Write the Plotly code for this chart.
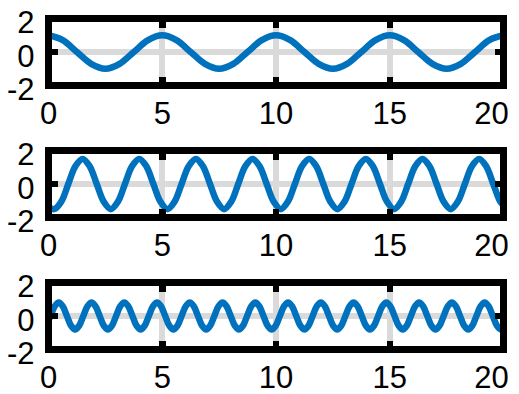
import plotly.graph_objects as go

# ---- data (sample points along each curve) ----
TOP_X = [0, 0.625, 1.25, 1.875, 2.5, 3.125, 3.75, 4.375,
         5, 5.625, 6.25, 6.875, 7.5, 8.125, 8.75, 9.375,
         10, 10.625, 11.25, 11.875, 12.5, 13.125, 13.75, 14.375,
         15, 15.625, 16.25, 16.875, 17.5, 18.125, 18.75, 19.375,
         20]
TOP_Y = [1, 0.71, 0, -0.71, -1, -0.71, 0, 0.71,
         1, 0.71, 0, -0.71, -1, -0.71, 0, 0.71,
         1, 0.71, 0, -0.71, -1, -0.71, 0, 0.71,
         1, 0.71, 0, -0.71, -1, -0.71, 0, 0.71,
         1]

MID_X = [0,
         0.25, 0.56, 0.87, 1.18, 1.50, 1.81, 2.12, 2.43,
         2.74, 3.05, 3.36, 3.67, 3.99, 4.30, 4.61, 4.92,
         5.23, 5.54, 5.85, 6.16, 6.48, 6.79, 7.10, 7.41,
         7.72, 8.03, 8.34, 8.65, 8.97, 9.28, 9.59, 9.90,
         10.21, 10.52, 10.83, 11.14, 11.46, 11.77, 12.08, 12.39,
         12.70, 13.01, 13.32, 13.63, 13.95, 14.26, 14.57, 14.88,
         15.19, 15.50, 15.81, 16.12, 16.44, 16.75, 17.06, 17.37,
         17.68, 17.99, 18.30, 18.61, 18.93, 19.24, 19.55, 19.86,
         20]
MID_Y = [-1.35,
         -1.5, -1.06, 0, 1.06, 1.5, 1.06, 0, -1.06,
         -1.5, -1.06, 0, 1.06, 1.5, 1.06, 0, -1.06,
         -1.5, -1.06, 0, 1.06, 1.5, 1.06, 0, -1.06,
         -1.5, -1.06, 0, 1.06, 1.5, 1.06, 0, -1.06,
         -1.5, -1.06, 0, 1.06, 1.5, 1.06, 0, -1.06,
         -1.5, -1.06, 0, 1.06, 1.5, 1.06, 0, -1.06,
         -1.5, -1.06, 0, 1.06, 1.5, 1.06, 0, -1.06,
         -1.5, -1.06, 0, 1.06, 1.5, 1.06, 0, -1.06,
         -1.25]

BOT_X = [0,
         0.09, 0.27, 0.45, 0.63, 0.81, 0.99, 1.17, 1.35,
         1.53, 1.71, 1.89, 2.07, 2.25, 2.43, 2.61, 2.79,
         2.97, 3.15, 3.33, 3.51, 3.69, 3.87, 4.05, 4.23,
         4.41, 4.59, 4.77, 4.95, 5.13, 5.31, 5.49, 5.67,
         5.85, 6.03, 6.21, 6.39, 6.57, 6.75, 6.93, 7.11,
         7.29, 7.47, 7.65, 7.83, 8.01, 8.19, 8.37, 8.55,
         8.73, 8.91, 9.09, 9.27, 9.45, 9.63, 9.81, 9.99,
         10.17, 10.35, 10.53, 10.71, 10.89, 11.07, 11.25, 11.43,
         11.61, 11.79, 11.97, 12.15, 12.33, 12.51, 12.69, 12.87,
         13.05, 13.23, 13.41, 13.59, 13.77, 13.95, 14.13, 14.31,
         14.49, 14.67, 14.85, 15.03, 15.21, 15.39, 15.57, 15.75,
         15.93, 16.11, 16.29, 16.47, 16.65, 16.83, 17.01, 17.19,
         17.37, 17.55, 17.73, 17.91, 18.09, 18.27, 18.45, 18.63,
         18.81, 18.99, 19.17, 19.35, 19.53, 19.71, 19.89,
         20]
BOT_Y = [-0.25,
         0, 0.57, 0.8, 0.57, 0, -0.57, -0.8, -0.57,
         0, 0.57, 0.8, 0.57, 0, -0.57, -0.8, -0.57,
         0, 0.57, 0.8, 0.57, 0, -0.57, -0.8, -0.57,
         0, 0.57, 0.8, 0.57, 0, -0.57, -0.8, -0.57,
         0, 0.57, 0.8, 0.57, 0, -0.57, -0.8, -0.57,
         0, 0.57, 0.8, 0.57, 0, -0.57, -0.8, -0.57,
         0, 0.57, 0.8, 0.57, 0, -0.57, -0.8, -0.57,
         0, 0.57, 0.8, 0.57, 0, -0.57, -0.8, -0.57,
         0, 0.57, 0.8, 0.57, 0, -0.57, -0.8, -0.57,
         0, 0.57, 0.8, 0.57, 0, -0.57, -0.8, -0.57,
         0, 0.57, 0.8, 0.57, 0, -0.57, -0.8, -0.57,
         0, 0.57, 0.8, 0.57, 0, -0.57, -0.8, -0.57,
         0, 0.57, 0.8, 0.57, 0, -0.57, -0.8, -0.57,
         0, 0.57, 0.8, 0.57, 0, -0.57, -0.8,
         -0.71]

X_TICKS = [0, 5, 10, 15, 20]
X_TICK_TEXT = ["0", "5", "10", "15", "20"]
Y_TICKS = [-2, 0, 2]
Y_TICK_TEXT = ["-2", "0", "2"]
X_RANGE = [0, 20]
Y_RANGE = [-2, 2]

assert len(TOP_X) == len(TOP_Y)
assert len(MID_X) == len(MID_Y)
assert len(BOT_X) == len(BOT_Y)

W, H = 519, 394
LINE_COLOR = "#0072BD"
GRID_COLOR = "#dadada"
FONT = dict(family="Liberation Sans, Arial, sans-serif", size=31, color="black")

# pixel boxes (line centres of the frames)
x_left, x_right = 48.5, 503.5
panels = [(18.5, 85.5), (150.5, 217.5), (282.5, 349.5)]
series = [(TOP_X, TOP_Y), (MID_X, MID_Y), (BOT_X, BOT_Y)]

fig = go.Figure()
shapes = []
layout_axes = {}
n = len(panels)
for i, ((top, bot), (xs, ys)) in enumerate(zip(panels, series), start=1):
    xa = "x" if i == 1 else f"x{i}"
    ya = "y" if i == 1 else f"y{i}"
    ov = n + i
    fig.add_trace(go.Scatter(
        x=xs, y=ys, mode="lines", xaxis=xa, yaxis=ya,
        line=dict(color=LINE_COLOR, width=6.5, shape="spline", smoothing=1),
        showlegend=False, hoverinfo="skip"))
    # empty trace so the overlay axis (last x label) gets drawn
    fig.add_trace(go.Scatter(x=[], y=[], mode="lines", xaxis=f"x{ov}", yaxis=ya,
                             showlegend=False, hoverinfo="skip"))
    common = dict(
        showline=False, zeroline=False, showgrid=True,
        gridcolor=GRID_COLOR, gridwidth=6,
        ticks="inside", ticklen=9, tickwidth=6.5, tickcolor="black",
        mirror="ticks", tickfont=FONT, fixedrange=True,
        automargin=False, ticklabeloverflow="allow")
    xkey = "xaxis" if i == 1 else f"xaxis{i}"
    ykey = "yaxis" if i == 1 else f"yaxis{i}"
    layout_axes[xkey] = dict(
        common, domain=[x_left / W, x_right / W], range=X_RANGE,
        tickvals=X_TICKS, ticktext=X_TICK_TEXT[:-1] + [""],
        anchor=ya, ticklabelstandoff=6)
    layout_axes[f"xaxis{ov}"] = dict(
        overlaying=xa, anchor=ya, side="bottom", range=X_RANGE,
        tickvals=X_TICKS[-1:], ticktext=X_TICK_TEXT[-1:],
        showgrid=False, showline=False, zeroline=False, ticks="",
        tickfont=FONT, fixedrange=True, automargin=False,
        ticklabelstandoff=6, ticklabelshift=-12, ticklabeloverflow="allow")
    layout_axes[ykey] = dict(
        common, domain=[1 - bot / H, 1 - top / H], range=Y_RANGE,
        tickvals=Y_TICKS, ticktext=Y_TICK_TEXT,
        anchor=xa, ticklabelstandoff=13, ticklabelshift=4)
    shapes.append(dict(type="rect", xref=f"{xa} domain", yref=f"{ya} domain",
                       x0=0, x1=1, y0=0, y1=1, layer="above",
                       line=dict(color="black", width=7)))

fig.update_layout(layout_axes)
fig.update_layout(
    width=W, height=H, margin=dict(l=0, r=0, t=0, b=0, pad=0),
    paper_bgcolor="white", plot_bgcolor="white", shapes=shapes,
    font=FONT)

fig.write_html(
    "out.html",
    config={"displayModeBar": False, "staticPlot": True},
    post_script="document.body.style.margin='0';document.body.style.overflow='hidden';")
